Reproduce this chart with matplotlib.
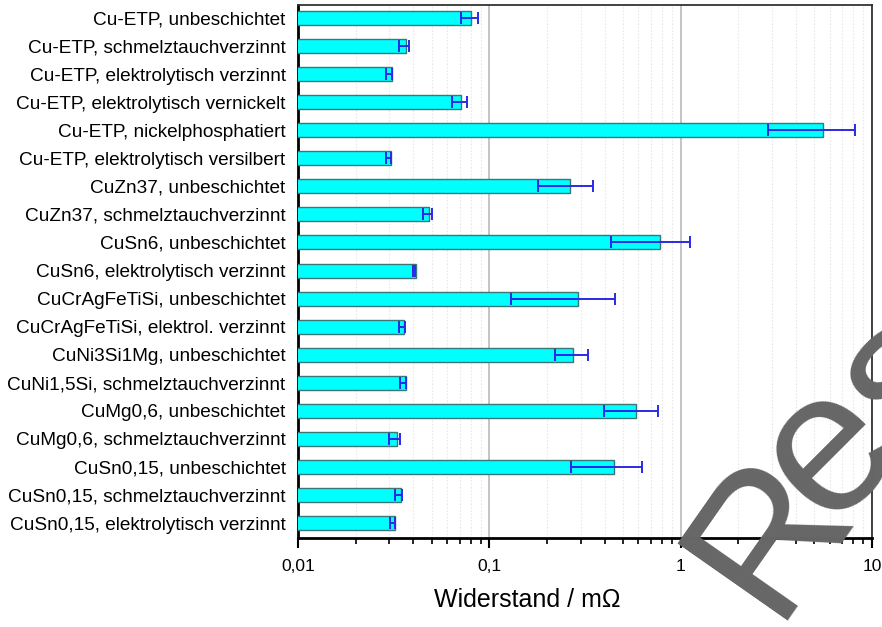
"""Kontaktwiderstand verschiedener Werkstoffe / Beschichtungen (log. Balkendiagramm)."""

import matplotlib
matplotlib.use("Agg")
import matplotlib.pyplot as plt  # noqa: E402
from matplotlib.ticker import FixedLocator, LogLocator, NullFormatter  # noqa: E402
import numpy as np  # noqa: E402

plt.rcParams["font.family"] = ["Liberation Sans", "DejaVu Sans"]

labels = [
    "Cu-ETP, unbeschichtet",
    "Cu-ETP, schmelztauchverzinnt",
    "Cu-ETP, elektrolytisch verzinnt",
    "Cu-ETP, elektrolytisch vernickelt",
    "Cu-ETP, nickelphosphatiert",
    "Cu-ETP, elektrolytisch versilbert",
    "CuZn37, unbeschichtet",
    "CuZn37, schmelztauchverzinnt",
    "CuSn6, unbeschichtet",
    "CuSn6, elektrolytisch verzinnt",
    "CuCrAgFeTiSi, unbeschichtet",
    "CuCrAgFeTiSi, elektrol. verzinnt",
    "CuNi3Si1Mg, unbeschichtet",
    "CuNi1,5Si, schmelztauchverzinnt",
    "CuMg0,6, unbeschichtet",
    "CuMg0,6, schmelztauchverzinnt",
    "CuSn0,15, unbeschichtet",
    "CuSn0,15, schmelztauchverzinnt",
    "CuSn0,15, elektrolytisch verzinnt",
]
# mittlerer Widerstand in mOhm
widerstand = [0.079, 0.0359, 0.0300, 0.0699, 5.52, 0.0297, 0.263, 0.0475, 0.777,
              0.0402, 0.291, 0.0349, 0.274, 0.0356, 0.581, 0.0319, 0.447, 0.0335, 0.0313]
# Standardabweichung in mOhm
streuung = [0.0078, 0.0020, 0.0011, 0.0063, 2.65, 0.0010, 0.084, 0.0026, 0.345,
            0.0005, 0.161, 0.0013, 0.053, 0.0013, 0.182, 0.0021, 0.180, 0.0013, 0.0009]

xticks = [0.01, 0.1, 1, 10]
xticklabels = ["0,01", "0,1", "1", "10"]

CYAN = "#00ffff"
EDGE = "#3a7878"
BLUE = "#2a2ae6"
GRAU = "#666666"

fig = plt.figure(figsize=(8.82, 6.27), dpi=100)
ax = fig.add_axes([298 / 882, 1 - 538 / 627, 574 / 882, 533 / 627])

y = np.arange(len(labels))
ax.barh(y, widerstand, height=0.5, left=0.001, color=CYAN, edgecolor=EDGE,
        linewidth=1.0, zorder=3)
ax.errorbar(widerstand, y, xerr=streuung, fmt="none", ecolor=BLUE,
            elinewidth=1.4, capsize=4.5, capthick=1.4, zorder=4)

ax.set_xscale("log")
ax.set_xlim(0.01, 10)
ax.set_ylim(18.53, -0.46)

ax.xaxis.set_major_locator(FixedLocator(xticks))
ax.set_xticklabels(xticklabels, fontsize=12.5)
ax.xaxis.set_minor_locator(LogLocator(base=10, subs=np.arange(2, 10)))
ax.xaxis.set_minor_formatter(NullFormatter())
ax.tick_params(axis="x", which="major", length=7, width=1.5, direction="out", pad=8)
ax.tick_params(axis="x", which="minor", length=4, width=1.2, direction="out")

ax.set_yticks(y)
ax.set_yticklabels(labels, fontsize=13.7)
ax.tick_params(axis="y", length=0, pad=9)

ax.grid(axis="x", which="major", color="#c4c4c4", linewidth=1.4, zorder=0)
ax.grid(axis="x", which="minor", color="#e8e8e8", linewidth=0.8,
        linestyle=(0, (1.5, 1.5)), zorder=0)
ax.set_axisbelow(True)

for side in ("left", "bottom"):
    ax.spines[side].set_linewidth(2.0)
    ax.spines[side].set_color("black")
for side in ("top", "right"):
    ax.spines[side].set_linewidth(1.3)
    ax.spines[side].set_color("#333333")

fig.text(527 / 882, 1 - 600 / 627, "Widerstand / m\u03a9", fontsize=18,
         ha="center", va="center")

# Wasserzeichen (angeschnitten am rechten Rand)
fig.text(0.876, 0.010, "R", fontsize=140, color=GRAU, rotation=55,
         rotation_mode="anchor", ha="left", va="baseline", zorder=10)
fig.text(0.937, 0.160, "es", fontsize=145, color=GRAU, rotation=45,
         rotation_mode="anchor", ha="left", va="baseline", zorder=10)

fig.savefig("out.png", dpi=100)
plt.close(fig)
